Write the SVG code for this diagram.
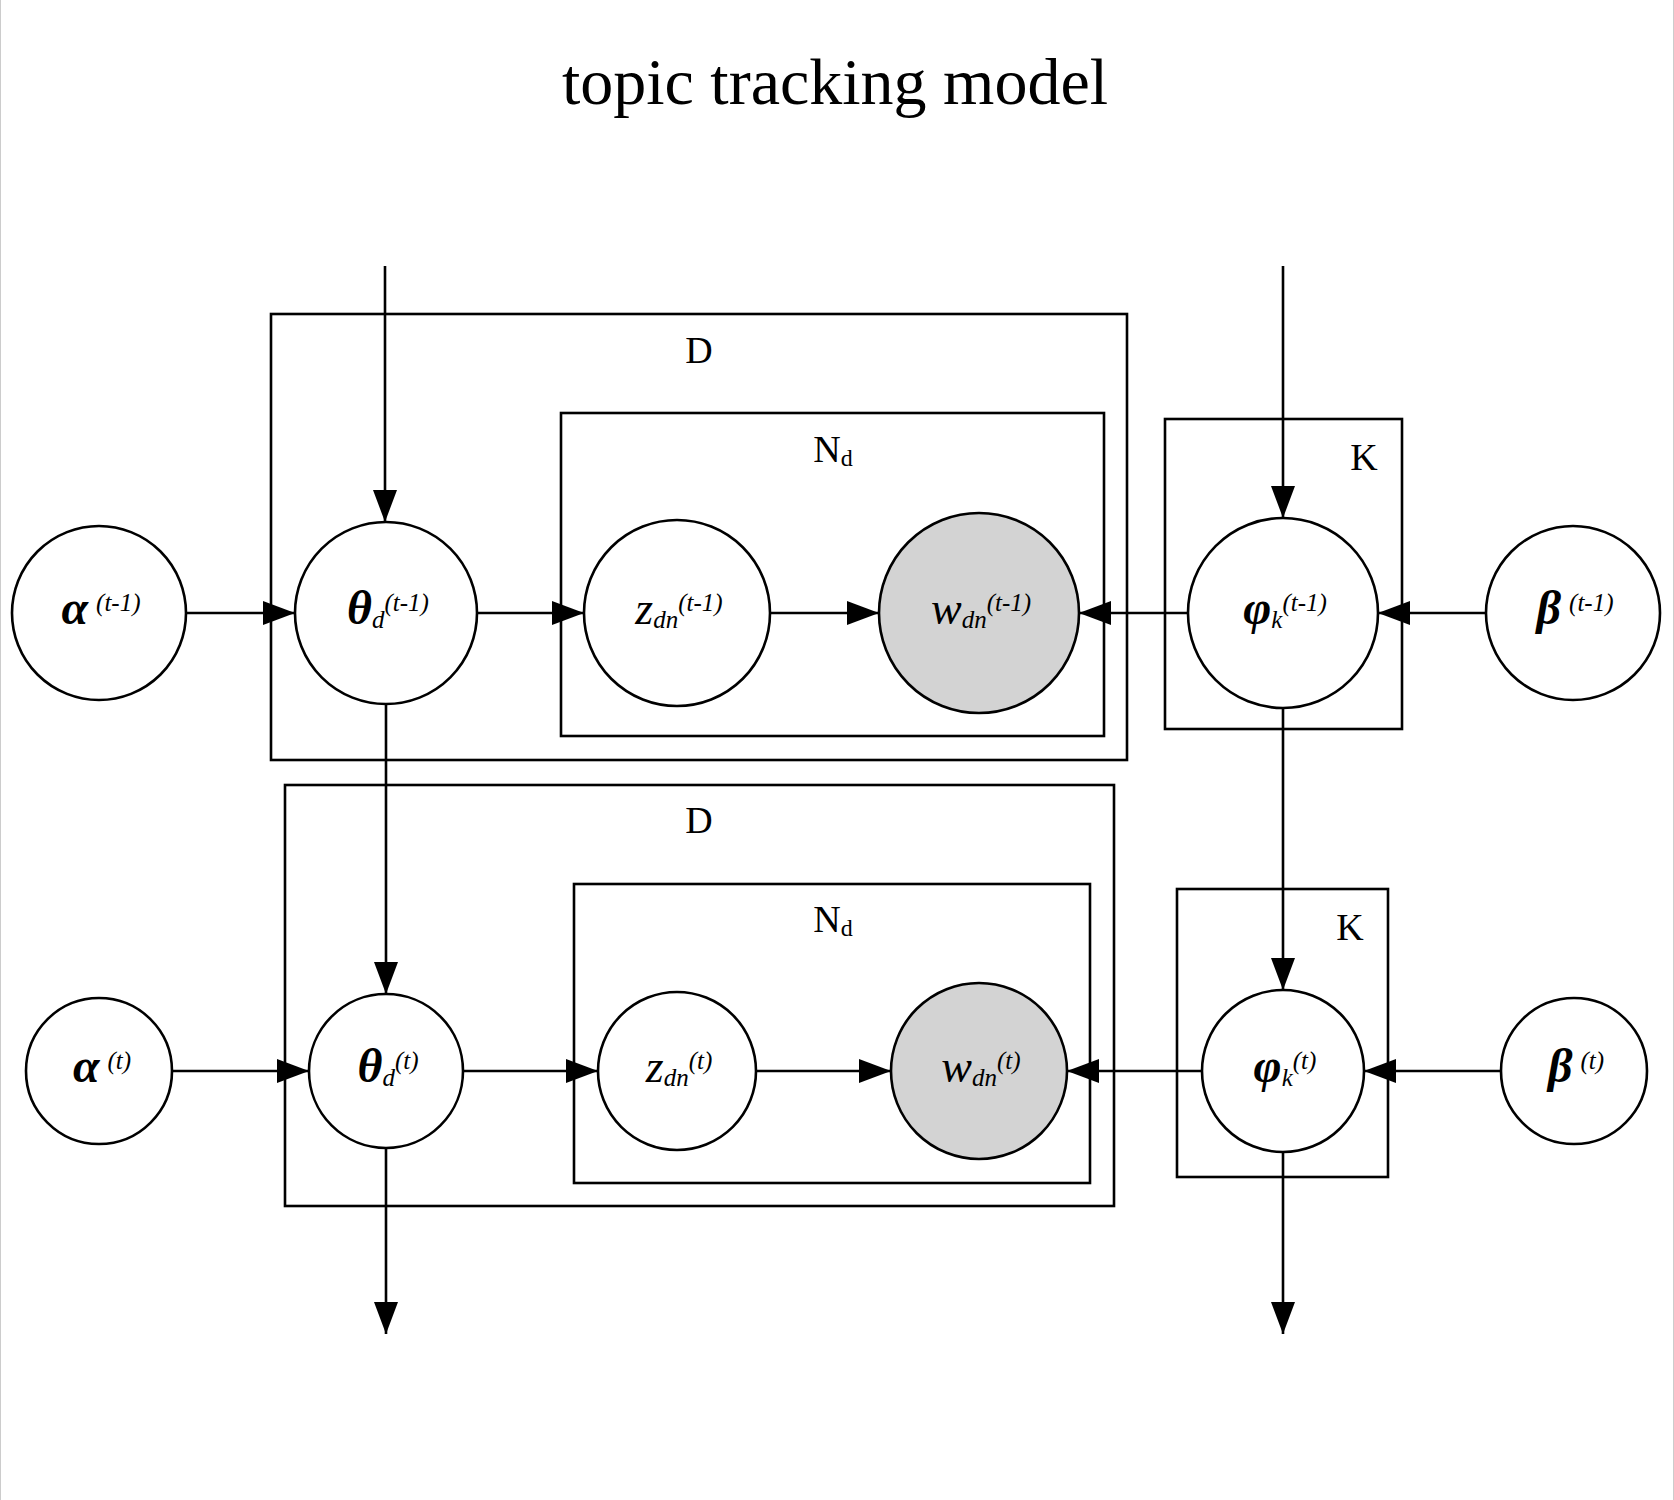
<svg xmlns="http://www.w3.org/2000/svg" width="1674" height="1500" viewBox="0 0 1674 1500">
<style>
.node{fill:#ffffff;stroke:#000;stroke-width:2.6}
.obs{fill:#d3d3d3;stroke:#000;stroke-width:2.6}
.plate{fill:none;stroke:#000;stroke-width:2.6}
.edge{fill:none;stroke:#000;stroke-width:2.6;marker-end:url(#arr)}
.lbl{font-family:"Liberation Serif",serif;font-size:46px;text-anchor:middle}
.gb{font-weight:bold;font-style:italic;font-size:48px}
.it{font-style:italic}
.sm{font-size:25px;font-style:italic;font-weight:normal}
.pl{font-family:"Liberation Serif",serif;font-size:38px;text-anchor:middle}
.title{font-family:"Liberation Serif",serif;font-size:66px;text-anchor:middle}
</style>
<defs>
<marker id="arr" markerUnits="userSpaceOnUse" markerWidth="32" markerHeight="24" refX="32" refY="12" orient="auto">
<path d="M0,0 L32,12 L0,24 z" fill="#000"/>
</marker>
</defs>
<rect x="0" y="0" width="1674" height="1500" fill="#fff"/>
<line x1="0.5" y1="0" x2="0.5" y2="1500" stroke="#cccccc" stroke-width="1"/>
<line x1="1673.5" y1="0" x2="1673.5" y2="1500" stroke="#cccccc" stroke-width="1"/>
<text class="title" x="835" y="104">topic tracking model</text>

<g id="plates">
<g id="plate-D-prev"><rect class="plate" x="271" y="314" width="856" height="446"/><text class="pl" x="699" y="363">D</text></g>
<g id="plate-N-prev"><rect class="plate" x="561" y="413" width="543" height="323"/><text class="pl" x="833" y="462">N<tspan font-size="24" dy="4">d</tspan></text></g>
<g id="plate-K-prev"><rect class="plate" x="1165" y="419" width="237" height="310"/><text class="pl" x="1364" y="470">K</text></g>
<g id="plate-D-cur"><rect class="plate" x="285" y="785" width="829" height="421"/><text class="pl" x="699" y="833">D</text></g>
<g id="plate-N-cur"><rect class="plate" x="574" y="884" width="516" height="299"/><text class="pl" x="833" y="932">N<tspan font-size="24" dy="4">d</tspan></text></g>
<g id="plate-K-cur"><rect class="plate" x="1177" y="889" width="211" height="288"/><text class="pl" x="1350" y="940">K</text></g>
</g>

<g id="connectors">
<line class="edge" x1="385" y1="266" x2="385" y2="522"/>
<line class="edge" x1="1283" y1="266" x2="1283" y2="518"/>
<line class="edge" x1="386" y1="704" x2="386" y2="994"/>
<line class="edge" x1="1283" y1="708" x2="1283" y2="990"/>
<line class="edge" x1="386" y1="1148" x2="386" y2="1334"/>
<line class="edge" x1="1283" y1="1152" x2="1283" y2="1334"/>
<line class="edge" x1="186" y1="613" x2="295" y2="613"/>
<line class="edge" x1="477" y1="613" x2="584" y2="613"/>
<line class="edge" x1="770" y1="613" x2="879" y2="613"/>
<line class="edge" x1="1188" y1="613" x2="1079" y2="613"/>
<line class="edge" x1="1486" y1="613" x2="1378" y2="613"/>
<line class="edge" x1="172" y1="1071" x2="309" y2="1071"/>
<line class="edge" x1="463" y1="1071" x2="598" y2="1071"/>
<line class="edge" x1="756" y1="1071" x2="891" y2="1071"/>
<line class="edge" x1="1202" y1="1071" x2="1067" y2="1071"/>
<line class="edge" x1="1501" y1="1071" x2="1364" y2="1071"/>
</g>

<g id="alpha-prev"><circle class="node" cx="99" cy="613" r="87"/><text class="lbl" x="101" y="624"><tspan class="gb">α</tspan><tspan class="sm" dx="8" dy="-13">(t-1)</tspan></text></g>
<g id="theta-prev"><circle class="node" cx="386" cy="613" r="91"/><text class="lbl" x="388" y="624"><tspan class="gb">θ</tspan><tspan class="sm" dy="4">d</tspan><tspan class="sm" dy="-17">(t-1)</tspan></text></g>
<g id="z-prev"><circle class="node" cx="677" cy="613" r="93"/><text class="lbl" x="679" y="624"><tspan class="it">z</tspan><tspan class="sm" dy="4">dn</tspan><tspan class="sm" dy="-17">(t-1)</tspan></text></g>
<g id="w-prev"><circle class="obs" cx="979" cy="613" r="100"/><text class="lbl" x="981" y="624"><tspan class="it">w</tspan><tspan class="sm" dy="4">dn</tspan><tspan class="sm" dy="-17">(t-1)</tspan></text></g>
<g id="phi-prev"><circle class="node" cx="1283" cy="613" r="95"/><text class="lbl" x="1285" y="624"><tspan class="gb">φ</tspan><tspan class="sm" dy="4">k</tspan><tspan class="sm" dy="-17">(t-1)</tspan></text></g>
<g id="beta-prev"><circle class="node" cx="1573" cy="613" r="87"/><text class="lbl" x="1575" y="624"><tspan class="gb">β</tspan><tspan class="sm" dx="8" dy="-13">(t-1)</tspan></text></g>

<g id="alpha-cur"><circle class="node" cx="99" cy="1071" r="73"/><text class="lbl" x="102" y="1082"><tspan class="gb">α</tspan><tspan class="sm" dx="8" dy="-13">(t)</tspan></text></g>
<g id="theta-cur"><circle class="node" cx="386" cy="1071" r="77"/><text class="lbl" x="388" y="1082"><tspan class="gb">θ</tspan><tspan class="sm" dy="4">d</tspan><tspan class="sm" dy="-17">(t)</tspan></text></g>
<g id="z-cur"><circle class="node" cx="677" cy="1071" r="79"/><text class="lbl" x="679" y="1082"><tspan class="it">z</tspan><tspan class="sm" dy="4">dn</tspan><tspan class="sm" dy="-17">(t)</tspan></text></g>
<g id="w-cur"><circle class="obs" cx="979" cy="1071" r="88"/><text class="lbl" x="981" y="1082"><tspan class="it">w</tspan><tspan class="sm" dy="4">dn</tspan><tspan class="sm" dy="-17">(t)</tspan></text></g>
<g id="phi-cur"><circle class="node" cx="1283" cy="1071" r="81"/><text class="lbl" x="1285" y="1082"><tspan class="gb">φ</tspan><tspan class="sm" dy="4">k</tspan><tspan class="sm" dy="-17">(t)</tspan></text></g>
<g id="beta-cur"><circle class="node" cx="1574" cy="1071" r="73"/><text class="lbl" x="1576" y="1082"><tspan class="gb">β</tspan><tspan class="sm" dx="8" dy="-13">(t)</tspan></text></g>
</svg>
